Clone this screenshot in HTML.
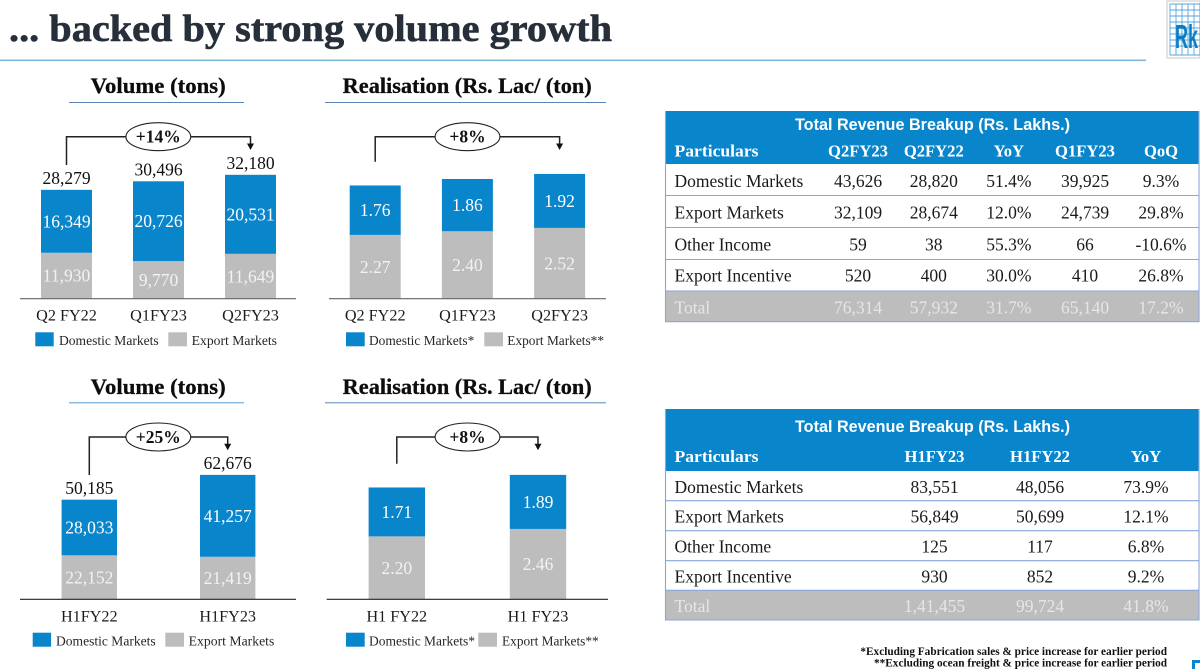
<!DOCTYPE html>
<html lang="en">
<head>
<meta charset="utf-8">
<title>... backed by strong volume growth</title>
<style>
html,body{margin:0;padding:0;background:#fff;width:1200px;height:669px;overflow:hidden}
svg{display:block}
text{font-family:"Liberation Serif",serif}
.ti{font-weight:bold;fill:#0d0d0d;font-size:22px;stroke:#0d0d0d;stroke-width:.3px}
.lg{font-size:13.5px;fill:#262626}
.tt{font-family:"Liberation Sans",sans-serif;font-weight:bold;fill:#fff;font-size:16.5px}
.th{font-weight:bold;fill:#fff;font-size:16.6px}
.td{font-size:17.5px;fill:#1a1a1a}
.tg{font-size:17.5px;fill:#e6e6e6}
.c{text-anchor:middle}
.fn{font-weight:bold;font-size:11.5px;fill:#111}
</style>
</head>
<body>
<svg xmlns="http://www.w3.org/2000/svg" width="1200" height="669" viewBox="0 0 1200 669">
<rect width="1200" height="669" fill="#fff"/>
<text x="9" y="41" font-size="38" font-weight="bold" fill="#262f3a" stroke="#262f3a" stroke-width="0.6" textLength="603" lengthAdjust="spacingAndGlyphs">... backed by strong volume growth</text>
<rect x="0" y="59.5" width="1146" height="1.6" fill="#7ab8e0"/>

<g>
<rect x="1167" y="1" width="33" height="57" fill="#fff" stroke="#d0d0d0" stroke-width="1.2"/>
<path d="M1170 4H1200V55H1170ZM1170 10H1200M1170 16H1200M1170 22H1200M1170 28H1200M1170 34H1200M1170 40H1200M1170 46H1200M1176 4V55M1182 4V55M1188 4V55M1194 4V55" fill="none" stroke="#55a6dc" stroke-width="0.9"/>
<text x="1175" y="48" font-size="33" fill="#0a7cc4" textLength="23" lengthAdjust="spacingAndGlyphs" style="font-family:'Liberation Sans',sans-serif;font-weight:bold">Rk</text>
</g>

<g id="chart-volume-quarter">
<text class="ti" x="90.7" y="93" textLength="135" lengthAdjust="spacingAndGlyphs">Volume (tons)</text>
<rect x="69" y="102" width="175" height="1" fill="#5b84b8"/>
<g>
<rect x="35.3" y="332.3" width="18.4" height="14" fill="#0985cc"/>
<text class="lg" x="59" y="345" textLength="99.7" lengthAdjust="spacingAndGlyphs">Domestic Markets</text>
<rect x="168.3" y="332.3" width="18.7" height="14" fill="#bdbdbd"/>
<text class="lg" x="191.7" y="345" textLength="85.3" lengthAdjust="spacingAndGlyphs">Export Markets</text>
</g>
</g>

<g id="chart-realisation-quarter">
<text class="ti" x="342.7" y="93" textLength="249" lengthAdjust="spacingAndGlyphs">Realisation (Rs. Lac/ (ton)</text>
<rect x="325" y="102" width="281" height="1" fill="#5b84b8"/>
<g>
<rect x="346" y="332.3" width="18.7" height="14" fill="#0985cc"/>
<text class="lg" x="369" y="345" textLength="105.3" lengthAdjust="spacingAndGlyphs">Domestic Markets*</text>
<rect x="484.3" y="332.3" width="18.7" height="14" fill="#bdbdbd"/>
<text class="lg" x="507.3" y="345" textLength="96.7" lengthAdjust="spacingAndGlyphs">Export Markets**</text>
</g>
</g>

<g id="chart-volume-half">
<text class="ti" x="90.7" y="394" textLength="135" lengthAdjust="spacingAndGlyphs">Volume (tons)</text>
<rect x="69" y="402.3" width="175" height="1" fill="#5b9bd0"/>
<g>
<rect x="32.7" y="632.7" width="18.4" height="14" fill="#0985cc"/>
<text class="lg" x="56" y="645.4" textLength="99.7" lengthAdjust="spacingAndGlyphs">Domestic Markets</text>
<rect x="165.3" y="632.7" width="18.7" height="14" fill="#bdbdbd"/>
<text class="lg" x="188.7" y="645.4" textLength="85.6" lengthAdjust="spacingAndGlyphs">Export Markets</text>
</g>
</g>

<g id="chart-realisation-half">
<text class="ti" x="342.7" y="394" textLength="249" lengthAdjust="spacingAndGlyphs">Realisation (Rs. Lac/ (ton)</text>
<rect x="325" y="402.3" width="281" height="1" fill="#5b84b8"/>
<g>
<rect x="346" y="632.7" width="18.7" height="14" fill="#0985cc"/>
<text class="lg" x="369" y="645.4" textLength="106" lengthAdjust="spacingAndGlyphs">Domestic Markets*</text>
<rect x="478.3" y="632.7" width="18.7" height="14" fill="#bdbdbd"/>
<text class="lg" x="502" y="645.4" textLength="96.7" lengthAdjust="spacingAndGlyphs">Export Markets**</text>
</g>
</g>

<g>
<rect x="665.5" y="111" width="533.5" height="53" fill="#0985cc"/>
<rect x="665.5" y="291" width="533.5" height="30.7" fill="#bdbdbd"/>
<path d="M665.5 111V321.7H1199V111M665.5 195.5H1199M665.5 227.5H1199M665.5 259.5H1199M665.5 291H1199" fill="none" stroke="#8aa5dc" stroke-width="1.1"/>
<text class="tt" x="795" y="130" textLength="275" lengthAdjust="spacingAndGlyphs">Total Revenue Breakup (Rs. Lakhs.)</text>
<g>
<text class="th" x="674.5" y="156.5" textLength="84" lengthAdjust="spacingAndGlyphs">Particulars</text>
<text class="th c" x="858" y="156.5">Q2FY23</text>
<text class="th c" x="933.8" y="156.5">Q2FY22</text>
<text class="th c" x="1008.8" y="156.5">YoY</text>
<text class="th c" x="1085" y="156.5">Q1FY23</text>
<text class="th c" x="1161" y="156.5">QoQ</text>
</g>
<g>
<text class="td" x="674.5" y="187">Domestic Markets</text>
<text class="td c" x="858" y="187">43,626</text>
<text class="td c" x="933.8" y="187">28,820</text>
<text class="td c" x="1008.8" y="187">51.4%</text>
<text class="td c" x="1085" y="187">39,925</text>
<text class="td c" x="1161" y="187">9.3%</text>
</g>
<g>
<text class="td" x="674.5" y="218.7">Export Markets</text>
<text class="td c" x="858" y="218.7">32,109</text>
<text class="td c" x="933.8" y="218.7">28,674</text>
<text class="td c" x="1008.8" y="218.7">12.0%</text>
<text class="td c" x="1085" y="218.7">24,739</text>
<text class="td c" x="1161" y="218.7">29.8%</text>
</g>
<g>
<text class="td" x="674.5" y="250.3">Other Income</text>
<text class="td c" x="858" y="250.3">59</text>
<text class="td c" x="933.8" y="250.3">38</text>
<text class="td c" x="1008.8" y="250.3">55.3%</text>
<text class="td c" x="1085" y="250.3">66</text>
<text class="td c" x="1161" y="250.3">-10.6%</text>
</g>
<g>
<text class="td" x="674.5" y="281.7">Export Incentive</text>
<text class="td c" x="858" y="281.7">520</text>
<text class="td c" x="933.8" y="281.7">400</text>
<text class="td c" x="1008.8" y="281.7">30.0%</text>
<text class="td c" x="1085" y="281.7">410</text>
<text class="td c" x="1161" y="281.7">26.8%</text>
</g>
<g>
<text class="tg" x="674.5" y="313.3">Total</text>
<text class="tg c" x="858" y="313.3">76,314</text>
<text class="tg c" x="933.8" y="313.3">57,932</text>
<text class="tg c" x="1008.8" y="313.3">31.7%</text>
<text class="tg c" x="1085" y="313.3">65,140</text>
<text class="tg c" x="1161" y="313.3">17.2%</text>
</g>
</g>

<g>
<rect x="665.5" y="409" width="533.5" height="62" fill="#0985cc"/>
<rect x="665.5" y="590.3" width="533.5" height="29.7" fill="#bdbdbd"/>
<path d="M665.5 409V620H1199V409M665.5 500.7H1199M665.5 530.7H1199M665.5 560.7H1199M665.5 590.3H1199" fill="none" stroke="#8aa5dc" stroke-width="1.1"/>
<text class="tt" x="795" y="432" textLength="275" lengthAdjust="spacingAndGlyphs">Total Revenue Breakup (Rs. Lakhs.)</text>
<g>
<text class="th" x="674.5" y="462" textLength="84" lengthAdjust="spacingAndGlyphs">Particulars</text>
<text class="th c" x="934.5" y="462">H1FY23</text>
<text class="th c" x="1040" y="462">H1FY22</text>
<text class="th c" x="1146" y="462">YoY</text>
</g>
<g>
<text class="td" x="674.5" y="493">Domestic Markets</text>
<text class="td c" x="934.5" y="493">83,551</text>
<text class="td c" x="1040" y="493">48,056</text>
<text class="td c" x="1146" y="493">73.9%</text>
</g>
<g>
<text class="td" x="674.5" y="522.5">Export Markets</text>
<text class="td c" x="934.5" y="522.5">56,849</text>
<text class="td c" x="1040" y="522.5">50,699</text>
<text class="td c" x="1146" y="522.5">12.1%</text>
</g>
<g>
<text class="td" x="674.5" y="552.5">Other Income</text>
<text class="td c" x="934.5" y="552.5">125</text>
<text class="td c" x="1040" y="552.5">117</text>
<text class="td c" x="1146" y="552.5">6.8%</text>
</g>
<g>
<text class="td" x="674.5" y="582.5">Export Incentive</text>
<text class="td c" x="934.5" y="582.5">930</text>
<text class="td c" x="1040" y="582.5">852</text>
<text class="td c" x="1146" y="582.5">9.2%</text>
</g>
<g>
<text class="tg" x="674.5" y="612">Total</text>
<text class="tg c" x="934.5" y="612">1,41,455</text>
<text class="tg c" x="1040" y="612">99,724</text>
<text class="tg c" x="1146" y="612">41.8%</text>
</g>
</g>

<text class="fn" x="860.4" y="655" textLength="306.6" lengthAdjust="spacingAndGlyphs">*Excluding Fabrication sales &amp; price increase for earlier period</text>
<text class="fn" x="874" y="666.5" textLength="293" lengthAdjust="spacingAndGlyphs">**Excluding ocean freight &amp; price increase for earlier period</text>
<path d="M1193.5 669V661.5H1200" fill="none" stroke="#0985cc" stroke-width="3"/>
</svg>

<script>
// Chart data
const quarterCategories = ['Q2 FY22', 'Q1FY23', 'Q2FY23'];
const volumeQuarterDomestic = [16349, 20726, 20531];
const volumeQuarterExport = [11930, 9770, 11649];
const volumeQuarterTotals = [28279, 30496, 32180];
const volumeQuarterGrowth = '+14%';

const realisationQuarterDomestic = [1.76, 1.86, 1.92];
const realisationQuarterExport = [2.27, 2.40, 2.52];
const realisationQuarterGrowth = '+8%';

const volumeHalfCategories = ['H1FY22', 'H1FY23'];
const volumeHalfDomestic = [28033, 41257];
const volumeHalfExport = [22152, 21419];
const volumeHalfTotals = [50185, 62676];
const volumeHalfGrowth = '+25%';

const realisationHalfCategories = ['H1 FY22', 'H1 FY23'];
const realisationHalfDomestic = [1.71, 1.89];
const realisationHalfExport = [2.20, 2.46];
const realisationHalfGrowth = '+8%';

const SVG_NS = 'http://www.w3.org/2000/svg';

function make(parent, tag, attrs, txt) {
  const el = document.createElementNS(SVG_NS, tag);
  for (const k in attrs) el.setAttribute(k, attrs[k]);
  if (txt !== undefined) el.textContent = txt;
  parent.appendChild(el);
  return el;
}

function drawChart(o) {
  const root = document.getElementById(o.id);
  const yScale = v => o.baseY - v * o.pxPerUnit;
  const xCenter = i => o.firstCenter + i * o.step;
  const fmt = v => o.decimals ? v.toFixed(o.decimals) : v.toLocaleString('en-US');

  o.categories.forEach((cat, i) => {
    const cx = xCenter(i);
    const ex = o.exportVals[i];
    const dom = o.domestic[i];
    const yEx = yScale(ex);
    const yTop = yScale(ex + dom);

    const barEx = make(root, 'rect', {x: cx - o.barW / 2, y: yEx, width: o.barW, height: o.baseY - yEx, fill: '#bdbdbd'});
    
    

    const barDom = make(root, 'rect', {x: cx - o.barW / 2, y: yTop, width: o.barW, height: yEx - yTop, fill: '#0985cc'});
    
    

    const lblEx = make(root, 'text', {x: cx, y: (yEx + o.baseY) / 2 + 6, 'text-anchor': 'middle', 'font-size': 17.5, fill: '#f2f2f2'}, fmt(ex));
    
    

    const lblDom = make(root, 'text', {x: cx, y: (yTop + yEx) / 2 + 6, 'text-anchor': 'middle', 'font-size': 17.5, fill: '#fff'}, fmt(dom));
    
    

    if (o.totals) {
      const lblTotal = make(root, 'text', {x: cx, y: yTop - 5.7, 'text-anchor': 'middle', 'font-size': 17.5, fill: '#111'}, fmt(o.totals[i]));
      
      
    }

    const tick = make(root, 'text', {x: cx, y: o.baseY + 22, 'text-anchor': 'middle', 'font-size': 16.2, fill: '#1a1a1a'}, cat);
    
    
  });

  const axis = make(root, 'line', {x1: o.axisX1, x2: o.axisX2, y1: o.baseY, y2: o.baseY, stroke: o.axisColor, 'stroke-width': 1.2});
  
  

  const lastX = xCenter(o.categories.length - 1) + o.arrowShift;
  const startX = xCenter(0);
  const conn = make(root, 'path', {d: `M${startX} ${o.bracketStartY}V${o.bracketY}H${lastX}V${o.arrowTipY - 6}`, fill: 'none', stroke: '#222', 'stroke-width': 1.5});
  
  

  const head = make(root, 'path', {d: `M${lastX - 3.5} ${o.arrowTipY - 6.5}H${lastX + 3.5}L${lastX} ${o.arrowTipY}Z`, fill: '#111'});
  
  

  const oval = make(root, 'ellipse', {cx: o.ovalCx, cy: o.bracketY, rx: 32.4, ry: 14, fill: '#fff', stroke: '#222', 'stroke-width': 1.1});
  
  

  const growth = make(root, 'text', {x: o.ovalCx, y: o.bracketY + 6, 'text-anchor': 'middle', 'font-size': 17.5, 'font-weight': 'bold', fill: '#111'}, o.growth);
  
  
}

drawChart({id: 'chart-volume-quarter', categories: quarterCategories, domestic: volumeQuarterDomestic, exportVals: volumeQuarterExport, totals: volumeQuarterTotals, growth: volumeQuarterGrowth,
  baseY: 298.7, pxPerUnit: 0.00385, firstCenter: 66.5, step: 92, barW: 51, axisX1: 20, axisX2: 296, axisColor: '#666', arrowShift: 0, bracketStartY: 165, bracketY: 136.7, arrowTipY: 150, ovalCx: 158.3, decimals: 0});
drawChart({id: 'chart-realisation-quarter', categories: quarterCategories, domestic: realisationQuarterDomestic, exportVals: realisationQuarterExport, growth: realisationQuarterGrowth,
  baseY: 298.7, pxPerUnit: 28.1, firstCenter: 375.2, step: 92.2, barW: 51, axisX1: 329, axisX2: 606, axisColor: '#666', arrowShift: 0, bracketStartY: 161.7, bracketY: 136.7, arrowTipY: 150, ovalCx: 467.5, decimals: 2});
drawChart({id: 'chart-volume-half', categories: volumeHalfCategories, domestic: volumeHalfDomestic, exportVals: volumeHalfExport, totals: volumeHalfTotals, growth: volumeHalfGrowth,
  baseY: 599.3, pxPerUnit: 0.001985, firstCenter: 89.3, step: 138.4, barW: 55.4, axisX1: 20, axisX2: 296, axisColor: '#222', arrowShift: 0, bracketStartY: 475, bracketY: 437, arrowTipY: 450.3, ovalCx: 158.3, decimals: 0});
drawChart({id: 'chart-realisation-half', categories: realisationHalfCategories, domestic: realisationHalfDomestic, exportVals: realisationHalfExport, growth: realisationHalfGrowth,
  baseY: 599.3, pxPerUnit: 28.6, firstCenter: 396.8, step: 141.2, barW: 56.4, axisX1: 326.7, axisX2: 608, axisColor: '#222', arrowShift: 0, bracketStartY: 463.7, bracketY: 437, arrowTipY: 450.3, ovalCx: 467.5, decimals: 2});
</script>
</body>
</html>
